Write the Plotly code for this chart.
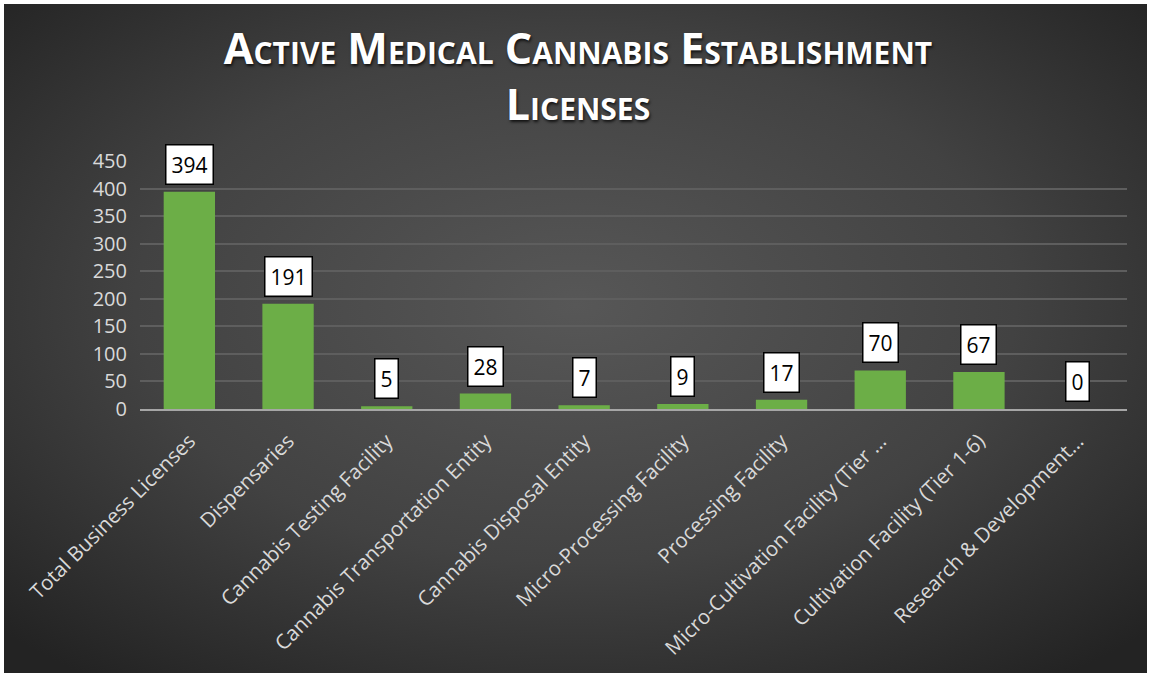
import base64
import plotly.graph_objects as go

categories = [
    "Total Business Licenses",
    "Dispensaries",
    "Cannabis Testing Facility",
    "Cannabis Transportation Entity",
    "Cannabis Disposal Entity",
    "Micro-Processing Facility",
    "Processing Facility",
    "Micro-Cultivation Facility (Tier …",
    "Cultivation Facility (Tier 1-6)",
    "Research & Development…",
]
values = [394, 191, 5, 28, 7, 9, 17, 70, 67, 0]
y_ticks = [0, 50, 100, 150, 200, 250, 300, 350, 400, 450]

W, H = 1151, 677
ML, MR, MT, MB = 140, 24, 161, 268
pw, ph = W - ML - MR, H - MT - MB

svg = f'''<svg xmlns="http://www.w3.org/2000/svg" width="{W}" height="{H}" viewBox="0 0 {W} {H}" preserveAspectRatio="none">
<defs><radialGradient id="g" cx="50%" cy="45%" r="70%" gradientUnits="objectBoundingBox">
<stop offset="0" stop-color="#575757"/><stop offset="0.55" stop-color="#424242"/><stop offset="1" stop-color="#232323"/>
</radialGradient></defs>
<rect x="0" y="0" width="{W}" height="{H}" fill="url(#g)"/></svg>'''
src = "data:image/svg+xml;base64," + base64.b64encode(svg.encode()).decode()

fig = go.Figure()
fig.add_trace(go.Bar(
    x=categories, y=values,
    marker=dict(color="#6cae47", line=dict(width=0)),
    width=0.52,
    hoverinfo="skip",
))

for c, v in zip(categories, values):
    fig.add_annotation(
        x=c, y=v, yref="y", xref="x",
        text=str(v), showarrow=False,
        yanchor="bottom", yshift=7,
        font=dict(family="Open Sans, Calibri, sans-serif", size=21, color="#000000"),
        bgcolor="#ffffff", bordercolor="#000000", borderwidth=1.5, borderpad=5,
    )

fig.add_layout_image(dict(
    source=src, xref="paper", yref="paper",
    x=(4 - ML) / pw, y=1 + (MT - 4) / ph,
    sizex=(W - 8) / pw, sizey=(H - 8) / ph,
    xanchor="left", yanchor="top", sizing="stretch", layer="below",
))

fig.update_layout(
    width=W, height=H,
    margin=dict(l=ML, r=MR, t=MT, b=MB),
    paper_bgcolor="#ffffff",
    plot_bgcolor="rgba(0,0,0,0)",
    showlegend=False,
    title=dict(
        text="Active Medical Cannabis Establishment<br>Licenses",
        x=578 / W, xref="container", xanchor="center",
        y=1 - 64 / H, yanchor="top", yref="container",
        font=dict(family="Open Sans, sans-serif", size=43, color="#ffffff",
                  weight="bold", variant="small-caps",
                  shadow="1px 2px 3px rgba(0,0,0,0.75)"),
    ),
    xaxis=dict(
        tickangle=-45,
        tickfont=dict(family="Open Sans, Calibri, sans-serif", size=20.5, color="#d9d9d9"),
        showgrid=False, showline=True, linecolor="#a6a6a6", linewidth=2,
        ticks="", fixedrange=True, ticklabelstandoff=10,
    ),
    yaxis=dict(
        range=[0, 450], tickvals=y_ticks,
        tickfont=dict(family="Open Sans, Calibri, sans-serif", size=20, color="#d9d9d9"),
        showgrid=True, gridcolor="#5e5e5e", gridwidth=1.5,
        zeroline=False, showline=False, ticks="", ticklen=0,
        ticklabelstandoff=12,
        fixedrange=True,
    ),
)

fig.write_html("out.html", post_script="document.body.style.margin='0';",
               config={"displayModeBar": False})
